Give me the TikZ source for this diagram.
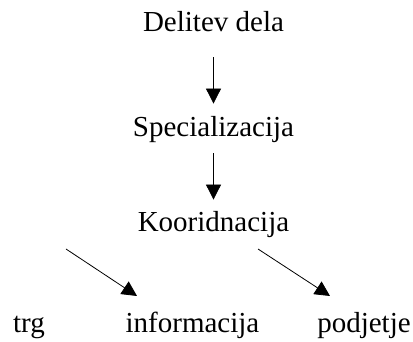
\documentclass[tikz,border=0pt]{standalone}
\usepackage{fontspec}
\setmainfont{Liberation Serif}
\usetikzlibrary{arrows.meta}
\begin{document}
\begin{tikzpicture}[x=1pt, y=-1pt, line width=0.8pt, >={Triangle[length=15pt,width=15pt]}, every node/.style={font=\fontsize{29}{34}\selectfont, inner sep=0pt, anchor=base, text height=20pt, text depth=7pt}]
            \useasboundingbox (0,0) rectangle (413,342);
            \node (Delitev) at (213.5,32) {Delitev dela};
            \node (Specializacija) at (213.5,137) {Specializacija};
            \node (Kooridnacija) at (213.5,232) {Kooridnacija};
            \node (Trg) at (29,333) {trg};
            \node (Informacija) at (192.5,333) {informacija};
            \node (Podjetje) at (364,333) {podjetje};
            \coordinate (LeftFrom) at (66,249);
            \coordinate (LeftTo) at (137,296);
            \coordinate (RightFrom) at (258,249);
            \coordinate (RightTo) at (330,296);
            \path[->, shorten <=18pt, shorten >=13pt] (Delitev) edge (Specializacija);
            \path[->, shorten <=9pt, shorten >=12pt] (Specializacija) edge (Kooridnacija);
            \path[->] (LeftFrom) edge (LeftTo);
            \path[->] (RightFrom) edge (RightTo);
        \end{tikzpicture}
\end{document}
